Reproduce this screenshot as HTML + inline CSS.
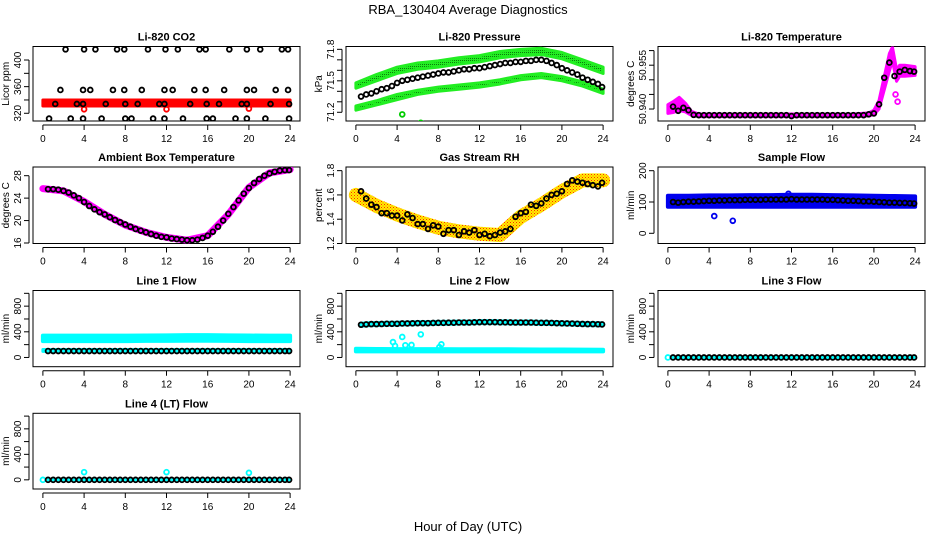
<!DOCTYPE html>
<html><head><meta charset="utf-8"><style>
html,body{margin:0;padding:0;background:#fff;}
svg{display:block;font-family:"Liberation Sans",sans-serif;}
</style></head><body>
<svg id="chart" width="936" height="540" viewBox="0 0 936 540" xmlns="http://www.w3.org/2000/svg">
<defs>
<pattern id="rhpat" width="3" height="3" patternUnits="userSpaceOnUse"><rect width="3" height="3" fill="#ffee00"/><rect width="1" height="1" fill="#ff2a00"/><rect x="1.5" y="1.5" width="1" height="1" fill="#ff6a00"/></pattern>
<pattern id="grpat" width="2" height="2" patternUnits="userSpaceOnUse"><rect width="2" height="2" fill="#22ee22"/><rect width="1" height="1" fill="#0a7a0a"/></pattern>
</defs>
<text x="468" y="14" text-anchor="middle" font-size="13">RBA_130404  Average Diagnostics</text>
<text x="468" y="531" text-anchor="middle" font-size="13">Hour of Day (UTC)</text>
</svg>
<script>
// shared time grid for averaged (black) points
const tMean = [0.5,1,1.5,2,2.5,3,3.5,4,4.5,5,5.5,6,6.5,7,7.5,8,8.5,9,9.5,10,10.5,11,11.5,12,12.5,13,13.5,14,14.5,15,15.5,16,16.5,17,17.5,18,18.5,19,19.5,20,20.5,21,21.5,22,22.5,23,23.5,23.9];
const tBand = [0,2,4,6,8,10,12,14,16,18,20,22,24];
const xTicks = [0,4,8,12,16,20,24];

// CO2
const co2X = [2.2,4.0,5.1,7.2,7.9,10.2,11.9,13.1,15.2,15.8,18.1,19.8,21.1,23.2,23.8, 1.7,3.9,4.6,6.8,7.9,9.6,11.8,12.6,14.7,15.8,17.6,19.8,20.5,22.6,23.8, 0.6,2.7,3.9,5.7,8.0,8.6,10.7,11.8,13.6,15.9,16.5,18.7,19.8,21.6,23.9, 1.2,3.3,3.9,6.1,8.0,9.2,11.3,11.8,14.3,15.9,17.1,19.3,19.8,22.1,23.9];
const co2Y = [416,416,416,416,416,416,416,416,416,416,416,416,416,416,416, 355,355,355,355,355,355,355,355,355,355,355,355,355,355,355, 312,312,312,312,312,312,312,312,312,312,312,312,312,312,312, 334,334,334,334,334,334,334,334,334,334,334,334,334,334,334];
const co2BandLo = [331,331,331,331,331,331,331,331,331,331,331,331,331];
const co2BandHi = [340,340,340,340,340,340,340,340,340,340,340,340,340];
const co2OutX = [4,12,20];
const co2OutY = [326,326,327];

// Pressure
const presMean = [71.35,71.37,71.38,71.40,71.42,71.43,71.45,71.48,71.50,71.51,71.52,71.53,71.54,71.55,71.56,71.57,71.58,71.58,71.59,71.60,71.61,71.61,71.62,71.62,71.63,71.64,71.65,71.66,71.67,71.67,71.68,71.68,71.69,71.69,71.70,71.70,71.69,71.67,71.65,71.62,71.60,71.58,71.56,71.53,71.51,71.49,71.47,71.44];
const presUpLo = [71.43,71.50,71.57,71.61,71.63,71.66,71.68,71.72,71.74,71.75,71.71,71.64,71.57];
const presUpHi = [71.48,71.56,71.63,71.67,71.69,71.72,71.74,71.78,71.80,71.81,71.77,71.70,71.63];
const presLoLo = [71.22,71.27,71.32,71.37,71.40,71.42,71.44,71.47,71.51,71.53,71.50,71.45,71.38];
const presLoHi = [71.26,71.31,71.37,71.41,71.44,71.46,71.48,71.51,71.55,71.57,71.54,71.49,71.42];
const presOutX = [4.5,6.3];
const presOutY = [71.18,71.10];

// Li-820 temperature
const tempMean = [50.9408,50.9394,50.9404,50.9396,50.9380,50.9379,50.9379,50.9379,50.9379,50.9379,50.9379,50.9379,50.9379,50.9379,50.9379,50.9379,50.9379,50.9379,50.9379,50.9379,50.9379,50.9379,50.9379,50.9376,50.9379,50.9379,50.9379,50.9379,50.9379,50.9379,50.9379,50.9379,50.9379,50.9379,50.9379,50.9379,50.9379,50.9379,50.9382,50.9385,50.9416,50.9507,50.9559,50.9513,50.9528,50.9534,50.9530,50.9528];
const tempBandX = [0,0.5,1.1,1.7,2.3,3,6,10,14,18,19.5,20,20.5,21,21.5,21.8,22.2,22.5,23,24];
const tempBandLo = [50.9385,50.9388,50.9395,50.9390,50.9378,50.9374,50.9374,50.9374,50.9374,50.9374,50.9376,50.9381,50.9400,50.9465,50.9530,50.9565,50.9495,50.9512,50.9512,50.9515];
const tempBandHi = [50.9415,50.9425,50.9440,50.9420,50.9392,50.9383,50.9383,50.9383,50.9383,50.9383,50.9387,50.9396,50.9430,50.9510,50.9590,50.9612,50.9535,50.9550,50.9550,50.9545];
const tempOutX = [22.1,22.3];
const tempOutY = [50.9450,50.9425];

// Ambient box temperature
const ambMean = [25.6,25.6,25.5,25.3,25.0,24.5,24.0,23.3,22.6,22.0,21.5,21.1,20.6,20.1,19.7,19.3,18.9,18.5,18.2,17.9,17.6,17.3,17.1,17.0,16.8,16.7,16.6,16.5,16.5,16.6,16.9,17.3,18.0,18.9,20.0,21.2,22.4,23.6,24.8,25.8,26.7,27.4,28.0,28.4,28.7,28.9,29.0,29.0];
const ambBand = [25.7,25.3,23.4,21.1,19.2,17.9,17.0,16.5,17.3,21.1,25.9,28.5,29.1];

// Gas stream RH
const rhMean = [1.63,1.57,1.52,1.50,1.45,1.45,1.43,1.43,1.39,1.44,1.41,1.36,1.36,1.32,1.35,1.34,1.28,1.31,1.31,1.27,1.30,1.29,1.31,1.27,1.28,1.26,1.27,1.29,1.30,1.32,1.42,1.45,1.46,1.52,1.51,1.53,1.57,1.60,1.61,1.63,1.69,1.72,1.71,1.70,1.69,1.68,1.67,1.70];
const rhBand = [1.60,1.51,1.44,1.38,1.33,1.30,1.28,1.27,1.42,1.52,1.63,1.72,1.72];

// Sample flow
const sfMean = [100,98,100,101,101,102,103,104,104,105,105,106,106,106,107,107,107,107,108,108,108,108,108,109,108,108,108,108,108,108,107,107,106,105,104,104,103,102,102,101,100,99,98,98,97,97,96,95];
const sfBandLo = [85,85,85,85,85,85,85,85,85,85,85,85,85];
const sfBandHi = [120,120,121,121,122,122,123,123,122,121,120,119,118];
const sfOutX = [4.5,6.3,11.7];
const sfOutY = [55,40,126];

// Line 1 flow
const l1Mean = [100,100,100,100,100,100,100,100,100,100,100,100,100,100,100,100,100,100,100,100,100,100,100,100,100,100,100,100,100,100,100,100,100,100,100,100,100,100,100,100,100,100,100,100,100,100,100,100];
const l1BandLo = [255,255,255,255,255,258,258,260,260,258,255,255,255];
const l1BandHi = [340,340,340,340,340,342,345,348,348,345,342,340,340];
const l1LowLo = [95,95,95,95,95,95,95,95,95,95,95,95,95];
const l1LowHi = [125,125,125,125,125,125,125,125,125,125,125,125,125];

// Line 2 flow
const l2Mean = [510,515,520,520,522,525,525,525,530,530,532,535,535,535,538,540,540,542,542,545,545,545,548,550,550,550,550,548,548,546,545,545,545,545,542,540,540,538,535,532,530,528,525,522,520,520,518,515];
const l2BandLo = [95,95,95,95,95,95,95,95,95,95,95,95,95];
const l2BandHi = [135,132,130,130,130,128,128,128,126,125,124,122,120];
const l2OutX = [3.6,3.8,4.5,4.8,5.4,6.3,8.1,8.3];
const l2OutY = [240,180,320,190,195,360,160,205];

// Line 3 flow
const l3Mean = [0,0,0,0,0,0,0,0,0,0,0,0,0,0,0,0,0,0,0,0,0,0,0,0,0,0,0,0,0,0,0,0,0,0,0,0,0,0,0,0,0,0,0,0,0,0,0,0];

// Line 4 flow
const l4Mean = [0,0,0,0,0,0,0,0,0,0,0,0,0,0,0,0,0,0,0,0,0,0,0,0,0,0,0,0,0,0,0,0,0,0,0,0,0,0,0,0,0,0,0,0,0,0,0,0];
const l4OutX = [4,12,20];
const l4OutY = [120,120,110];

const NS = 'http://www.w3.org/2000/svg';
const svg = document.getElementById('chart');
const colL = [33,346,658];
const rows = [[46.5,121],[167,243.5],[290.5,366.7],[413.3,489]];
const W = 267;

function mk(tag, attrs, parent){
  const e = document.createElementNS(NS, tag);
  for (const k in attrs) e.setAttribute(k, attrs[k]);
  (parent||svg).appendChild(e);
  return e;
}

function panel(col,row,ymin,ymax,title,ylab,yt,ylabels,name){
  const g = mk('g',{});
  
  
  const L = colL[col], T = rows[row][0], B = rows[row][1];
  const xs = v => L + (v+0.96)/25.92*W;
  const ys = v => B - (v-ymin)/(ymax-ymin)*(B-T);
  const ttl = mk('text',{x:L+W/2,y:T-6,'text-anchor':'middle','font-size':11,'font-weight':'bold'},g);
  ttl.textContent = title;
  
  
  const box = mk('rect',{x:L,y:T,width:W,height:B-T,fill:'none',stroke:'#000','stroke-width':1},g);
  
  
  const xa = mk('g',{},g);
  
  
  mk('line',{x1:xs(xTicks[0]),x2:xs(xTicks[xTicks.length-1]),y1:B+4,y2:B+4,stroke:'#000'},xa);
  xTicks.forEach(v=>{
    mk('line',{x1:xs(v),x2:xs(v),y1:B+4,y2:B+9,stroke:'#000'},xa);
    const t = mk('text',{x:xs(v),y:B+21,'text-anchor':'middle','font-size':10},xa);
    t.textContent = v;
  });
  const ya = mk('g',{},g);
  
  
  mk('line',{x1:L-4,x2:L-4,y1:ys(yt[0]),y2:ys(yt[yt.length-1]),stroke:'#000'},ya);
  yt.forEach(v=>{ mk('line',{x1:L-9,x2:L-4,y1:ys(v),y2:ys(v),stroke:'#000'},ya); });
  ylabels.forEach(v=>{
    const yy = ys(parseFloat(v));
    const t = mk('text',{x:L-12,y:yy,'text-anchor':'middle','font-size':10,transform:`rotate(-90 ${L-12} ${yy})`},ya);
    t.textContent = v;
  });
  const yl = mk('text',{x:L-24,y:(T+B)/2,'text-anchor':'middle','font-size':10,transform:`rotate(-90 ${L-24} ${(T+B)/2})`},g);
  yl.textContent = ylab;
  
  
  const clip = 'clip'+name;
  const cp = mk('clipPath',{id:clip},g);
  mk('rect',{x:L,y:T,width:W,height:B-T},cp);
  const plot = mk('g',{'clip-path':`url(#${clip})`},g);
  return {xs,ys,plot};
}

function band(p, xArr, lo, hi, fill, stroke, sw, name){
  let d = '';
  xArr.forEach((x,i)=>{ d += (i?'L':'M')+p.xs(x)+','+p.ys(hi[i]); });
  for (let i=xArr.length-1;i>=0;i--) d += 'L'+p.xs(xArr[i])+','+p.ys(lo[i]);
  d += 'Z';
  const e = mk('path',{d:d,fill:fill,stroke:stroke,'stroke-width':sw,'stroke-linejoin':'round'},p.plot);
  
  
}
function line(p, xArr, yArr, color, sw, name){
  let d='';
  xArr.forEach((x,i)=>{ d += (i?'L':'M')+p.xs(x)+','+p.ys(yArr[i]); });
  const e = mk('path',{d:d,fill:'none',stroke:color,'stroke-width':sw,'stroke-linejoin':'round','stroke-linecap':'round'},p.plot);
  
  
}
function pts(p, xArr, yArr, color, name){
  xArr.forEach((x,i)=>{
    const c = mk('circle',{cx:p.xs(x),cy:p.ys(yArr[i]),r:2.4,fill:'none',stroke:color,'stroke-width':1.8},p.plot);
    
    
  });
}
const flowTicks=[0,200,400,600,800,1000], flowLabels=['0','400','800'];

let p = panel(0,0,308.4,420.3,'Li-820 CO2','Licor ppm',[320,340,360,380,400],['320','360','400'],'co2');
band(p,tBand,co2BandLo,co2BandHi,'#ff0000','#ff0000',3,'co2-raw-band');
pts(p,co2OutX,co2OutY,'#ff0000','co2-raw-outlier');
pts(p,co2X,co2Y,'#000','co2-average-point');

p = panel(1,0,71.117,71.827,'Li-820 Pressure','kPa',[71.2,71.3,71.4,71.5,71.6,71.7,71.8],['71.2','71.5','71.8'],'pressure');
band(p,tBand,presUpLo,presUpHi,'url(#grpat)','#22ee22',3,'pressure-upper-band');
band(p,tBand,presLoLo,presLoHi,'url(#grpat)','#22ee22',3,'pressure-lower-band');
pts(p,presOutX,presOutY,'#00cc00','pressure-raw-outlier');
pts(p,tMean,presMean,'#000','pressure-average-point');

p = panel(2,0,50.9359,50.9614,'Li-820 Temperature','degrees C',[50.940,50.945,50.950,50.955,50.960],['50.940','50.955'],'li820-temp');
band(p,tempBandX,tempBandLo,tempBandHi,'#ff00ff','#ff00ff',3,'li820-temp-raw-band');
pts(p,tempOutX,tempOutY,'#ff00ff','li820-temp-raw-outlier');
pts(p,tMean,tempMean,'#000','li820-temp-average-point');

p = panel(0,1,15.91,29.55,'Ambient Box Temperature','degrees C',[16,20,24,28],['16','20','24','28'],'ambient-temp');
line(p,tBand,ambBand,'#ff00ff',7,'ambient-temp-raw-band');
pts(p,tMean,ambMean,'#000','ambient-temp-average-point');

p = panel(1,1,1.2,1.83,'Gas Stream RH','percent',[1.2,1.4,1.6,1.8],['1.2','1.4','1.6','1.8'],'rh');
line(p,tBand,rhBand,'url(#rhpat)',14,'rh-raw-band');
pts(p,tMean,rhMean,'#000','rh-average-point');

p = panel(2,1,-32.6,211.8,'Sample Flow','ml/min',[0,100,200],['0','100','200'],'sample-flow');
band(p,tBand,sfBandLo,sfBandHi,'#0000ee','#0000ee',4,'sample-flow-raw-band');
pts(p,sfOutX,sfOutY,'#0000ee','sample-flow-raw-outlier');
pts(p,tMean,sfMean,'#000','sample-flow-average-point');

p = panel(0,2,-144,1044,'Line 1 Flow','ml/min',flowTicks,flowLabels,'line1-flow');
band(p,tBand,l1BandLo,l1BandHi,'#00ffff','#00ffff',4,'line1-flow-high-band');
band(p,tBand,l1LowLo,l1LowHi,'#00ffff','#00ffff',3,'line1-flow-low-band');
pts(p,tMean,l1Mean,'#000','line1-flow-average-point');

p = panel(1,2,-144,1044,'Line 2 Flow','ml/min',flowTicks,flowLabels,'line2-flow');
band(p,tBand,l2BandLo,l2BandHi,'#00ffff','#00ffff',4,'line2-flow-low-band');
line(p,tMean,l2Mean,'#00ffff',6,'line2-flow-high-band');
pts(p,l2OutX,l2OutY,'#00ffff','line2-flow-raw-outlier');
pts(p,tMean,l2Mean,'#000','line2-flow-average-point');

p = panel(2,2,-144,1044,'Line 3 Flow','ml/min',flowTicks,flowLabels,'line3-flow');
line(p,tMean,l3Mean,'#00ffff',3,'line3-flow-raw');
pts(p,[0],[0],'#00ffff','line3-flow-raw-point');
pts(p,tMean,l3Mean,'#000','line3-flow-average-point');

p = panel(0,3,-144,1044,'Line 4 (LT) Flow','ml/min',flowTicks,flowLabels,'line4-flow');
line(p,tMean,l4Mean,'#00ffff',3,'line4-flow-raw');
pts(p,[0],[0],'#00ffff','line4-flow-raw-point');
pts(p,l4OutX,l4OutY,'#00ffff','line4-flow-raw-outlier');
pts(p,tMean,l4Mean,'#000','line4-flow-average-point');
</script>
</body></html>
